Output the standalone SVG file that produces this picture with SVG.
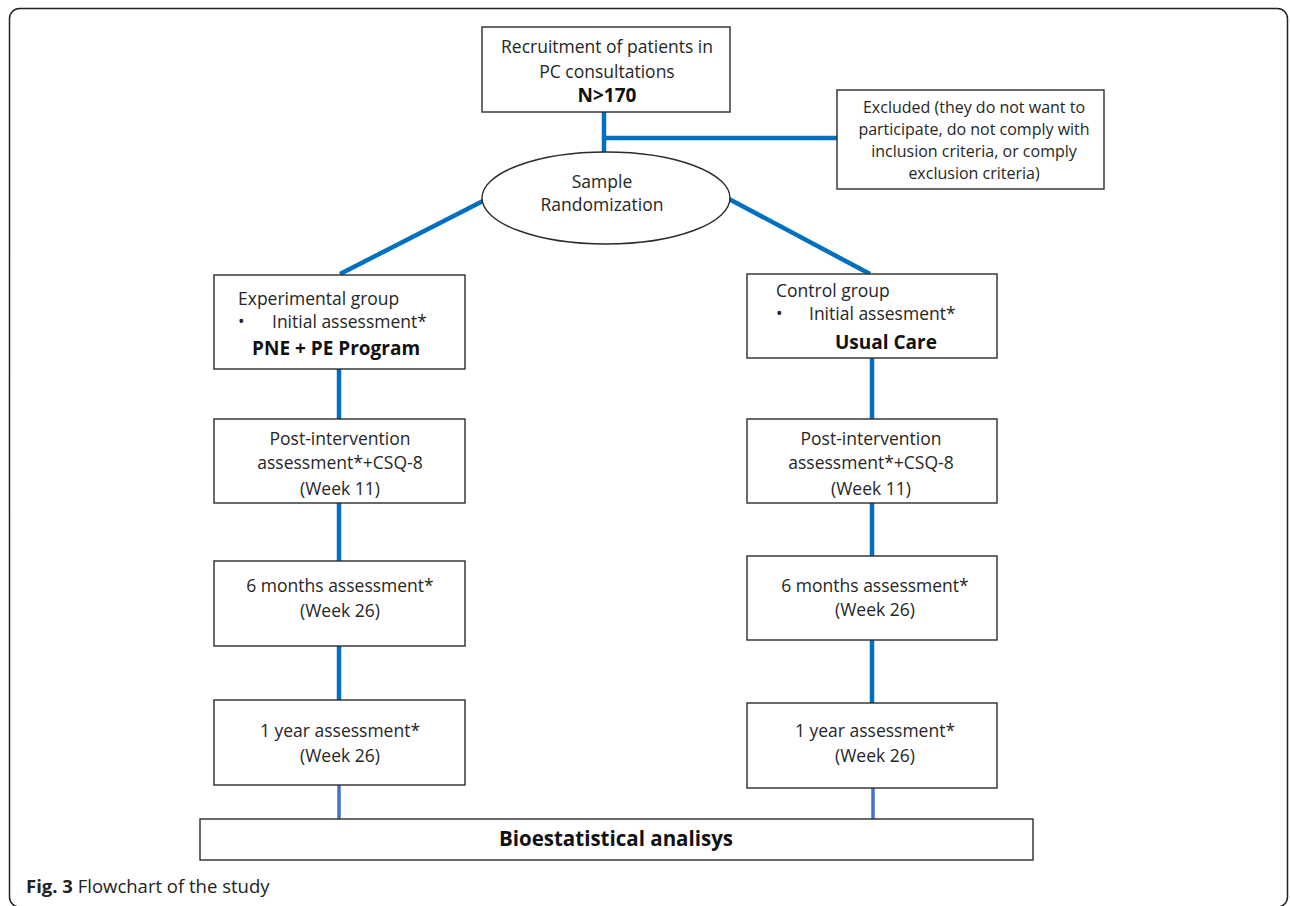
<svg xmlns="http://www.w3.org/2000/svg" width="1290" height="906" viewBox="0 0 1290 906">
<style>
  .box { fill: #ffffff; stroke: #2b2b2b; stroke-width: 1.4; }
  .t { font-family: "Open Sans", "Liberation Sans", sans-serif; font-size: 17.5px; fill: #262626; }
  .c { text-anchor: middle; }
  .ex { font-size: 16px; }
  .b { font-weight: bold; font-size: 19px; fill: #111; }
  .conn { stroke: #0070C0; stroke-width: 4.5; fill: none; }
  .conn2 { stroke: #4472C4; stroke-width: 3.5; fill: none; }
  .cap { font-family: "Open Sans", "Liberation Sans", sans-serif; font-size: 18.5px; fill: #222; }
</style>
<rect x="0" y="0" width="1290" height="906" fill="#ffffff"/>
<rect id="frame" x="9.5" y="8.5" width="1278" height="898.5" rx="10" ry="10" fill="none" stroke="#222" stroke-width="1.5"/>

<g id="connectors">
  <line class="conn" x1="604" y1="112" x2="604" y2="153"/>
  <line class="conn" x1="604" y1="138" x2="837" y2="138"/>
  <line class="conn" x1="483" y1="201" x2="340" y2="274"/>
  <line class="conn" x1="729" y1="199" x2="870" y2="274"/>
  <line class="conn" x1="339" y1="369" x2="339" y2="419"/>
  <line class="conn" x1="339" y1="503" x2="339" y2="561"/>
  <line class="conn" x1="339" y1="646" x2="339" y2="700"/>
  <line class="conn2" x1="339" y1="785" x2="339" y2="819"/>
  <line class="conn" x1="872" y1="358" x2="872" y2="419"/>
  <line class="conn" x1="872" y1="503" x2="872" y2="556"/>
  <line class="conn" x1="872" y1="640" x2="872" y2="703"/>
  <line class="conn2" x1="873" y1="788" x2="873" y2="819"/>
</g>

<g id="recruitment">
  <rect class="box" x="482" y="27" width="248" height="85"/>
  <text class="t c" x="607" y="53">Recruitment of patients in</text>
  <text class="t c" x="607" y="78">PC consultations</text>
  <text class="t c b" x="607" y="102">N&gt;170</text>
</g>

<g id="excluded">
  <rect class="box" x="837" y="90" width="267" height="99"/>
  <text class="t c ex" x="974" y="113">Excluded (they do not want to</text>
  <text class="t c ex" x="974" y="135">participate, do not comply with</text>
  <text class="t c ex" x="974" y="157">inclusion criteria, or comply</text>
  <text class="t c ex" x="974" y="179">exclusion criteria)</text>
</g>

<g id="randomization">
  <ellipse cx="606" cy="198" rx="124" ry="46" fill="#ffffff" stroke="#2b2b2b" stroke-width="1.4"/>
  <text class="t c" x="602" y="188">Sample</text>
  <text class="t c" x="602" y="211">Randomization</text>
</g>

<g id="exp-group">
  <rect class="box" x="214" y="275" width="251" height="94"/>
  <text class="t" x="238" y="305">Experimental group</text>
  <text class="t" x="238" y="328">•</text>
  <text class="t" x="272" y="328">Initial assessment*</text>
  <text class="t b" x="252" y="355">PNE + PE Program</text>
</g>

<g id="ctrl-group">
  <rect class="box" x="747" y="274" width="250" height="84"/>
  <text class="t" x="776" y="297">Control group</text>
  <text class="t" x="776" y="320">•</text>
  <text class="t" x="809" y="320">Initial assesment*</text>
  <text class="t b" x="835" y="349">Usual Care</text>
</g>

<g id="exp-post">
  <rect class="box" x="214" y="419" width="251" height="84"/>
  <text class="t c" x="340" y="445">Post-intervention</text>
  <text class="t c" x="340" y="469">assessment*+CSQ-8</text>
  <text class="t c" x="340" y="495">(Week 11)</text>
</g>

<g id="ctrl-post">
  <rect class="box" x="747" y="419" width="250" height="84"/>
  <text class="t c" x="871" y="445">Post-intervention</text>
  <text class="t c" x="871" y="469">assessment*+CSQ-8</text>
  <text class="t c" x="871" y="495">(Week 11)</text>
</g>

<g id="exp-6m">
  <rect class="box" x="214" y="561" width="251" height="85"/>
  <text class="t c" x="340" y="592">6 months  assessment*</text>
  <text class="t c" x="340" y="617">(Week 26)</text>
</g>

<g id="ctrl-6m">
  <rect class="box" x="747" y="556" width="250" height="84"/>
  <text class="t c" x="875" y="592">6 months  assessment*</text>
  <text class="t c" x="875" y="616">(Week 26)</text>
</g>

<g id="exp-1y">
  <rect class="box" x="214" y="700" width="251" height="85"/>
  <text class="t c" x="340" y="737">1 year assessment*</text>
  <text class="t c" x="340" y="762">(Week 26)</text>
</g>

<g id="ctrl-1y">
  <rect class="box" x="747" y="703" width="250" height="85"/>
  <text class="t c" x="875" y="737">1 year assessment*</text>
  <text class="t c" x="875" y="762">(Week 26)</text>
</g>

<g id="biostat">
  <rect class="box" x="200" y="819" width="833" height="41"/>
  <text class="t c b" x="616" y="846" style="font-size:20.5px">Bioestatistical analisys</text>
</g>

<text class="cap" x="26" y="893"><tspan font-weight="bold">Fig. 3</tspan> Flowchart of the study</text>
</svg>
